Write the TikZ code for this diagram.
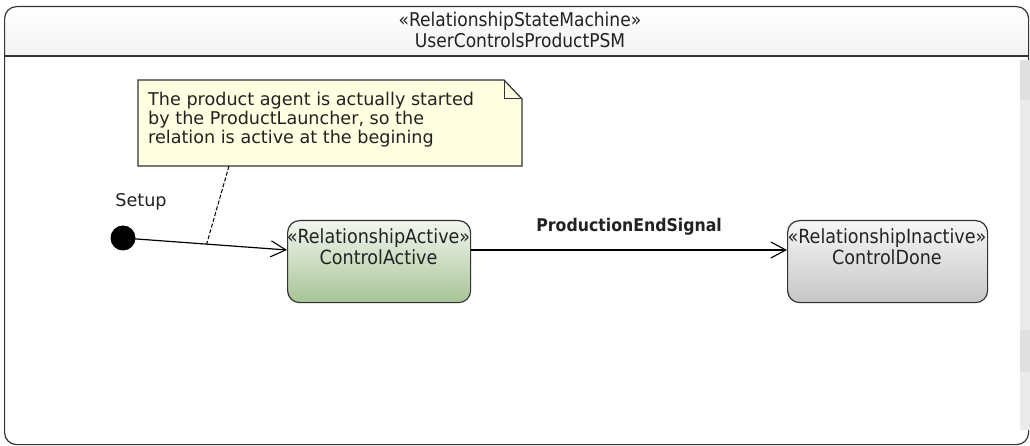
\documentclass[tikz,border=0pt]{standalone}
\usepackage{fontspec}
\setmainfont{DejaVu Sans}
\newfontfamily\condfont{DejaVu Sans Condensed}
\usetikzlibrary{arrows.meta,shapes.misc,calc}
\definecolor{notefill}{HTML}{FFFFE1}
\definecolor{greentop}{HTML}{F2F6EF}
\definecolor{greenbot}{HTML}{A8C497}
\definecolor{graytop}{HTML}{F7F7F7}
\definecolor{graybot}{HTML}{C6C6C6}
\definecolor{framecol}{HTML}{333333}
\definecolor{txtcol}{HTML}{222222}
\tikzset{
  statebox/.style={draw=framecol, line width=1.2pt, rounded corners=12pt, minimum width=183pt, minimum height=82pt, anchor=north west, inner sep=0pt},
  statetext/.style={text=txtcol, inner sep=0pt, align=center, font=\condfont\fontsize{19.5}{21}\selectfont},
  trans/.style={draw=black, line width=1.2pt, -{Straight Barb[length=15pt,width=16pt,line width=1.1pt]}},
  notelink/.style={draw=black, line width=1pt, dash pattern=on 4pt off 2pt},
  lbl/.style={text=txtcol, inner sep=0pt}
}
\begin{document}
\begin{tikzpicture}[x=1pt,y=-1pt]
\useasboundingbox (0,0) rectangle (1030,446);
\fill[white] (0,0) rectangle (1030,446);
% frame
\begin{scope}
\clip[rounded corners=12pt] (4,6) rectangle (1028,444);
\shade[top color=white, bottom color=black!5] (4,6) rectangle (1028,56);
\end{scope}
\node[draw=framecol, line width=1.2pt, rounded corners=12pt, minimum width=1024pt, minimum height=438pt, anchor=north west, inner sep=0pt] (frame) at (4,6) {};
\coordinate (hl) at (4,56);
\coordinate (hr) at (1028,56);
\draw[framecol, line width=1.2pt] (hl) -- (hr);
\node[lbl, font=\condfont\fontsize{19}{21}\selectfont, align=center] (title) at (520,30) {«RelationshipStateMachine»\\UserControlsProductPSM};
% scrollbar
\fill[black!8] (1020,60) rectangle (1030,430);
\fill[black!12] (1020,60) rectangle (1030,100);
\fill[black!12] (1020,330) rectangle (1030,372);
% note
\path[draw=framecol, line width=1.2pt, fill=notefill] (138,80) -- (504,80) -- (522,99) -- (522,166) -- (138,166) -- cycle;
\draw[framecol, line width=1pt] (504,80) -- (504,99) -- (522,99);
\node[lbl, font=\fontsize{17.6}{19}\selectfont, align=left, anchor=north west] (note) at (148,92) {The product agent is actually started\\by the ProductLauncher, so the\\relation is active at the begining};
\coordinate (notebot) at (229,166);
% initial
\node[circle, fill=black, minimum size=25pt, inner sep=0pt] (init) at (123,238) {};
\node[lbl, font=\fontsize{17.6}{20}\selectfont] (setup) at (141,202) {Setup};
% states
\shade[rounded corners=12pt, top color=greentop, bottom color=greenbot] (287,220) rectangle (470,302);
\node[statebox] (active) at (287,220) {};
\node[statetext] (activetxt) at (378.5,247) {«RelationshipActive»\\ControlActive};
\shade[rounded corners=12pt, top color=graytop, bottom color=graybot] (787,220) rectangle (987,302);
\node[statebox, minimum width=200pt] (done) at (787,220) {};
\node[statetext] (donetxt) at (887,247) {«RelationshipInactive»\\ControlDone};
% transitions
\coordinate (tend) at ($(active.north west)+(0,30)$);
\draw[trans] (init.center) -- (tend);
\coordinate (linkpt) at ($(init.center)!0.51!(tend)$);
\draw[notelink] (notebot) -- (linkpt);
\coordinate (aout) at ($(active.north east)+(0,30)$);
\coordinate (din) at ($(done.north west)+(0,30)$);
\draw[trans] (aout) -- node[lbl, above=14pt, font=\condfont\bfseries\fontsize{17.5}{20}\selectfont] (sig) {ProductionEndSignal} (din);
\end{tikzpicture}
\end{document}
